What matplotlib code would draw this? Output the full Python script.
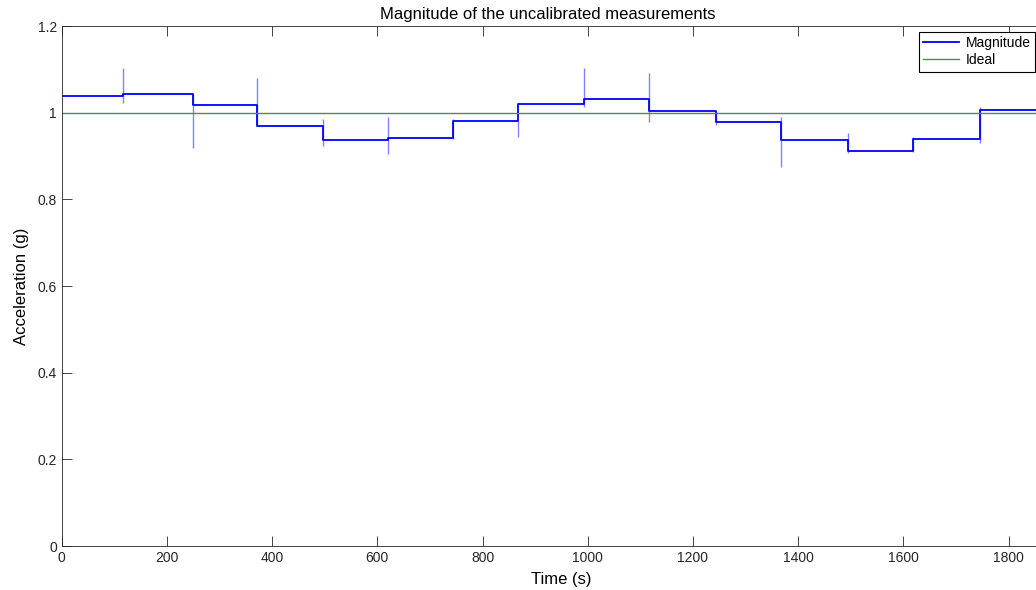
import matplotlib
matplotlib.use("Agg")
import matplotlib.pyplot as plt
from matplotlib.ticker import FormatStrFormatter

plt.rcParams['font.family'] = ['Liberation Sans', 'DejaVu Sans']

# step edges (s) and plateau levels (g)
edges = [0, 117, 249, 371, 496, 620, 744, 868, 993, 1117, 1243, 1367, 1494, 1618, 1745, 1900]
levels = [1.039, 1.044, 1.0185, 0.969, 0.936, 0.942, 0.980, 1.019, 1.032, 1.005,
          0.978, 0.936, 0.912, 0.940, 1.007]
# transient spikes at each change of orientation
spike_t = edges[1:-1]
spike_hi = [1.103, 1.044, 1.081, 0.985, 0.989, 0.985, 0.980, 1.103, 1.092, 1.005,
            0.991, 0.952, 0.943, 1.012]
spike_lo = [1.023, 0.918, 0.969, 0.922, 0.905, 0.940, 0.945, 1.014, 0.979, 0.972,
            0.875, 0.908, 0.910, 0.931]
ideal = 1.0

fig = plt.figure(figsize=(10.36, 5.9), dpi=100)
W, H = 1036, 590
ax_left, ax_bottom, ax_w, ax_h = 61.7, 44, 999.4, 520
ax = fig.add_axes([ax_left / W, ax_bottom / H, ax_w / W, ax_h / H])

ax.vlines(spike_t, spike_lo, spike_hi, color='blue', lw=1.0, alpha=0.5)
ax.plot(edges, levels + [levels[-1]], drawstyle='steps-post', color='blue', lw=1.3,
        label='Magnitude')
ax.plot([edges[0], edges[-1]], [ideal, ideal], color='#3a9a3a', lw=1.0,
        label='Ideal')

ax.set_xlim(0, 1900)
ax.set_ylim(0, 1.2)
ax.set_xticks(range(0, 1901, 200))
ax.set_yticks([0, 0.2, 0.4, 0.6, 0.8, 1.0, 1.2])
ax.yaxis.set_major_formatter(FormatStrFormatter('%g'))
ax.tick_params(direction='in', top=True, right=True, length=7.5, width=0.6,
               colors='#262626', labelsize=10)
for s in ax.spines.values():
    s.set_color('#262626')
    s.set_linewidth(0.6)

ax.set_xlabel('Time (s)', fontsize=12, labelpad=5)
ax.set_ylabel('Acceleration (g)', fontsize=12, labelpad=6)
ax.set_title('Magnitude of the uncalibrated measurements', fontsize=12,
             x=(547.5 - ax_left) / ax_w, pad=5)

leg = ax.legend(loc='upper left', bbox_to_anchor=((919 - ax_left) / ax_w, (546 - 31.7) / ax_h),
                borderaxespad=0, fontsize=10, fancybox=False, framealpha=1,
                edgecolor='black', handlelength=2.6, handletextpad=0.45,
                labelspacing=0.25, borderpad=0.3)
leg.get_frame().set_linewidth(0.8)

fig.savefig('out.png', dpi=100)
